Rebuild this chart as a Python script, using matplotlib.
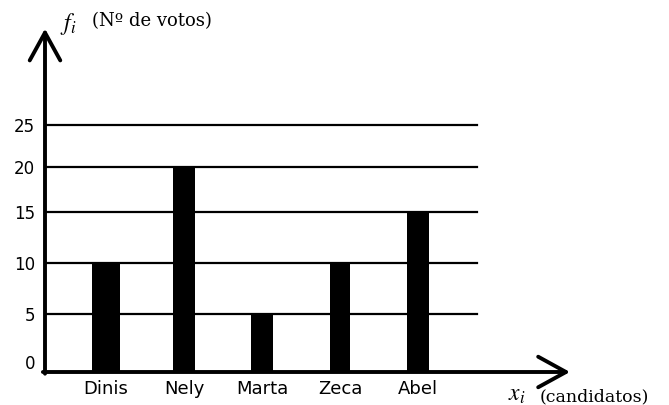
# Votos por candidato - grafico de barras com eixos em seta

import numpy as np
import matplotlib.pyplot as plt
from matplotlib.transforms import ScaledTranslation

candidatos = ['Dinis', 'Nely', 'Marta', 'Zeca', 'Abel']
votos = [10, 20, 5, 10, 15]
y_ticks = [0, 5, 10, 15, 20, 25]

# larguras das barras (estilo, tiradas da imagem)
larguras = [0.36, 0.28, 0.28, 0.26, 0.29]

plt.rcParams['mathtext.fontset'] = 'stix'

# escala do eixo y nao e uniforme na imagem original
knots_v = [-50, 0, 5, 10, 15, 20, 25, 100]
knots_h = [-580, 0, 58, 109, 160, 205, 247, 877]

def fwd(v):
    return np.interp(v, knots_v, knots_h)

def inv(h):
    return np.interp(h, knots_h, knots_v)

W, H = 669, 405
fig = plt.figure(figsize=(W / 100, H / 100), dpi=100)
ax = fig.add_axes([45 / W, (H - 372) / H, (570 - 45) / W, 340 / H])
ax.set_yscale('function', functions=(fwd, inv))

x = np.arange(len(candidatos))
ax.set_xlim(-61 / 78, 4 + 152 / 78)
ax.set_ylim(0, inv(340))

# linhas horizontais
x_end = (477 - 45) / (570 - 45)
for v in y_ticks[1:]:
    ax.axhline(v, xmin=0, xmax=x_end, color='black', lw=1.6, zorder=1)

ax.bar(x, votos, width=larguras, color='black', zorder=2)

for s in ax.spines.values():
    s.set_visible(False)

ax.set_xticks(x)
ax.set_xticklabels(candidatos, fontsize=13)
ax.set_yticks(y_ticks)
ax.set_yticklabels([str(v) for v in y_ticks], fontsize=12)
ax.tick_params(axis='both', length=0)
ax.tick_params(axis='y', pad=7)
ax.tick_params(axis='x', pad=6)

# o "0" fica um pouco acima do eixo
lbl0 = ax.get_yticklabels()[0]
lbl0.set_transform(lbl0.get_transform() + ScaledTranslation(0, 10 / 100, fig.dpi_scale_trans))

# eixos com setas
seta = dict(arrowstyle='->, head_length=2.0, head_width=1.1', lw=2.8, color='black',
            shrinkA=0, shrinkB=0)
ax.annotate('', xy=(0, 1.01), xytext=(0, -0.005), xycoords='axes fraction', arrowprops=seta,
            annotation_clip=False)
ax.annotate('', xy=(1, 0), xytext=(-0.004, 0), xycoords='axes fraction', arrowprops=seta,
            annotation_clip=False)

# titulos dos eixos
fig.text(60 / W, 1 - 24 / H, r'$f_i$', fontsize=17, va='center', ha='left')
fig.text(92 / W, 1 - 21 / H, '(Nº de votos)', fontsize=13, family='DejaVu Serif',
         va='center', ha='left')
fig.text(508 / W, 1 - 394 / H, r'$x_i$', fontsize=17, va='center', ha='left')
fig.text(540 / W, 1 - 397 / H, '(candidatos)', fontsize=12.5, family='DejaVu Serif',
         va='center', ha='left')

fig.savefig('out.png', dpi=100)
